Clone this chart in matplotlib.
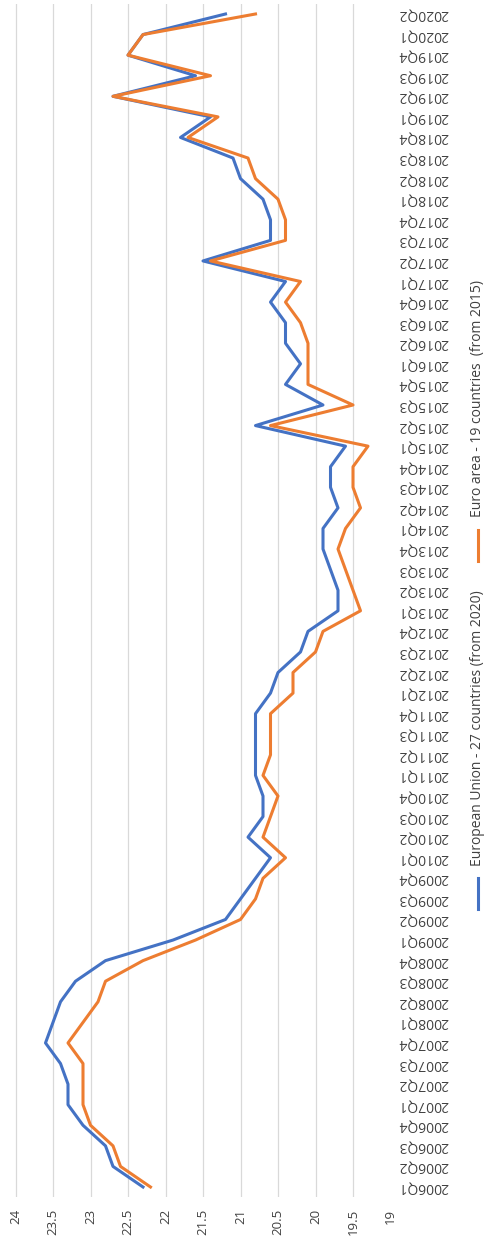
import numpy as np
import matplotlib
matplotlib.use('Agg')
import matplotlib.pyplot as plt
from matplotlib.lines import Line2D

plt.rcParams['font.family'] = ['Open Sans', 'DejaVu Sans']

# quarters 2006Q1 .. 2020Q2
quarters = [f"{y}Q{q}" for y in range(2006, 2021) for q in range(1, 5)][:58]

eu27 = [22.3, 22.7, 22.8, 23.1,
        23.3, 23.3, 23.4, 23.6,
        23.5, 23.4, 23.2, 22.8,
        21.9, 21.2, 21.0, 20.8,
        20.6, 20.9, 20.7, 20.7,
        20.8, 20.8, 20.8, 20.8,
        20.6, 20.5, 20.2, 20.1,
        19.7, 19.7, 19.8, 19.9,
        19.9, 19.7, 19.8, 19.8,
        19.6, 20.8, 19.9, 20.4,
        20.2, 20.4, 20.4, 20.6,
        20.4, 21.5, 20.6, 20.6,
        20.7, 21.0, 21.1, 21.8,
        21.4, 22.7, 21.6, 22.5,
        22.3, 21.2]

ea19 = [22.2, 22.6, 22.7, 23.0,
        23.1, 23.1, 23.1, 23.3,
        23.1, 22.9, 22.8, 22.3,
        21.6, 21.0, 20.8, 20.7,
        20.4, 20.7, 20.6, 20.5,
        20.7, 20.6, 20.6, 20.6,
        20.3, 20.3, 20.0, 19.9,
        19.4, 19.5, 19.6, 19.7,
        19.6, 19.4, 19.5, 19.5,
        19.3, 20.6, 19.5, 20.1,
        20.1, 20.1, 20.2, 20.4,
        20.2, 21.4, 20.4, 20.4,
        20.5, 20.8, 20.9, 21.7,
        21.3, 22.7, 21.4, 22.5,
        22.3, 20.8]

value_ticks = [24, 23.5, 23, 22.5, 22, 21.5, 21, 20.5, 20, 19.5, 19]
value_labels = ['24', '23.5', '23', '22.5', '22', '21.5', '21', '20.5', '20', '19.5', '19']

series_names = ['European Union - 27 countries (from 2020)',
                'Euro area - 19 countries  (from 2015)']

blue = '#4472C4'
orange = '#ED7D31'

W, H = 485, 1242
fig = plt.figure(figsize=(W / 100, H / 100), dpi=100)

# chart is drawn rotated: values along x (24 left), quarters along y (2006Q1 bottom)
left_px, right_px = 15.5, 390.5
top_px, bottom_px = 3.7, 1197.3
ax = fig.add_axes([left_px / W, 1 - bottom_px / H,
                   (right_px - left_px) / W, (bottom_px - top_px) / H])

pos = np.arange(len(quarters))
ax.plot(eu27, pos, color=blue, lw=2.2, solid_joinstyle='round')
ax.plot(ea19, pos, color=orange, lw=2.2, solid_joinstyle='round')

ax.set_xlim(24, 19)
ax.set_ylim(-0.5, len(quarters) - 0.5)

ax.set_xticks(value_ticks)
ax.set_xticklabels(value_labels, rotation=90, fontsize=9.5, color='#404040')
ax.tick_params(axis='x', length=0, pad=8)
ax.grid(axis='x', color='#d9d9d9', lw=0.9)
ax.set_axisbelow(True)

ax.yaxis.tick_right()
ax.set_yticks(pos)
ax.set_yticklabels(quarters, rotation=180, fontsize=10, color='#404040', va='center')
ax.tick_params(axis='y', length=0, pad=5.4)

for s in ax.spines.values():
    s.set_visible(False)

# legend, drawn by hand in rotated form
def px(x, y):
    return x / W, 1 - y / H

for name, col, y0, y1, ytext in [(series_names[0], blue, 878, 909, 866),
                                  (series_names[1], orange, 530, 561, 517)]:
    (xa, ya), (xb, yb) = px(477.7, y0), px(477.7, y1)
    fig.add_artist(Line2D([xa, xb], [ya, yb], color=col, lw=2.2, transform=fig.transFigure))
    tx, ty = px(478, ytext)
    fig.text(tx, ty, name, rotation=90, ha='center', va='bottom', fontsize=10, color='#404040')

fig.savefig('out.png', dpi=100)
